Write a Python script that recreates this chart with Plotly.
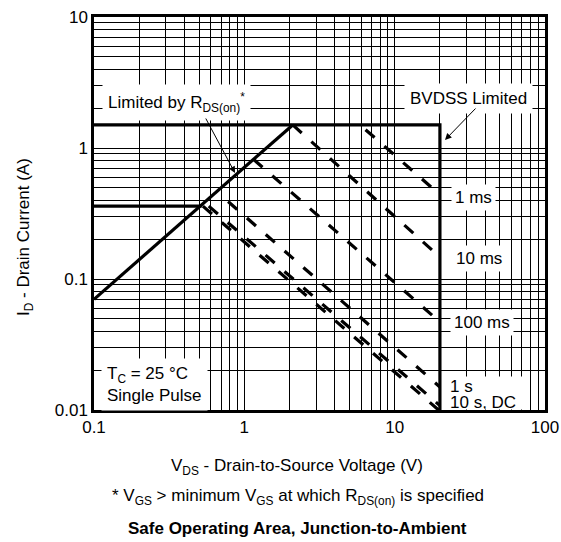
import plotly.graph_objects as go

# ---------------- data ----------------
x_ticks = [0.1, 0.2, 0.3, 0.4, 0.5, 0.6, 0.7, 0.8, 0.9,
           1, 2, 3, 4, 5, 6, 7, 8, 9,
           10, 20, 30, 40, 50, 60, 70, 80, 90, 100]
x_ticklabels = ["0.1"] + [""] * 8 + ["1"] + [""] * 8 + ["10"] + [""] * 8 + ["100"]
y_ticks = [0.01, 0.02, 0.03, 0.04, 0.05, 0.06, 0.07, 0.08, 0.09,
           0.1, 0.2, 0.3, 0.4, 0.5, 0.6, 0.7, 0.8, 0.9,
           1, 2, 3, 4, 5, 6, 7, 8, 9, 10]
y_ticklabels = ["0.01"] + [""] * 8 + ["0.1"] + [""] * 8 + ["1"] + [""] * 8 + ["10"]

# R_DS(on) limit line
rds_v = [0.1, 2.1]
rds_i = [0.07, 1.5]
# current limit + BVDSS limit
limit_v = [0.1, 20, 20]
limit_i = [1.5, 1.5, 0.01]
# lower current limit (long pulses / DC)
low_v = [0.1, 0.52]
low_i = [0.36, 0.36]

# pulse-width boundaries (dashed)
pulse_names = ["1 ms", "10 ms", "100 ms", "1 s", "10 s", "DC"]
pulse_v = [[6.4, 20], [2.1, 20], [1.15, 20], [0.78, 20], [0.53, 20], [0.58, 20]]
pulse_i = [[1.38, 0.44], [1.5, 0.147], [0.82, 0.047], [0.39, 0.015], [0.36, 0.0098], [0.36, 0.0108]]

FONT = "Liberation Sans, Arial, Helvetica, sans-serif"
FS = 17

fig = go.Figure()

for v, i in [(rds_v, rds_i), (limit_v, limit_i), (low_v, low_i)]:
    fig.add_trace(go.Scatter(x=v, y=i, mode="lines",
                             line=dict(color="black", width=3.2),
                             showlegend=False, hoverinfo="skip"))

for name, v, i in zip(pulse_names, pulse_v, pulse_i):
    fig.add_trace(go.Scatter(x=v, y=i, mode="lines", name=name,
                             line=dict(color="black", width=3.2, dash="12px,13px"),
                             showlegend=False, hoverinfo="skip"))

L, R, T, B = 94, 16, 17, 132
W, H = 561, 542
PW, PH = W - L - R, H - T - B


def px(x):
    return (x - L) / PW


def py(y):
    return (H - B - y) / PH


ann = []
txt = dict(font=dict(family=FONT, size=FS, color="black"), xref="paper", yref="paper",
           showarrow=False, yanchor="middle")

ann.append(dict(text="Limited by R<sub>DS(on)</sub><sup>*</sup>", x=px(176), y=py(103),
                xanchor="center", borderpad=5, bgcolor="white", **txt))
ann.append(dict(text="BVDSS Limited", x=px(468), y=py(98), xanchor="center", borderpad=5,
                bgcolor="white", **txt))
ann.append(dict(text="1 ms", x=px(473), y=py(197), xanchor="center", borderpad=3, bgcolor="white", **txt))
ann.append(dict(text="10 ms", x=px(479), y=py(258), xanchor="center", borderpad=3, bgcolor="white", **txt))
ann.append(dict(text="100 ms", x=px(482), y=py(322), xanchor="center", borderpad=3, bgcolor="white", **txt))
ann.append(dict(text="10 s, DC", x=px(449), y=py(401.5), xanchor="left", align="left", borderpad=0,
                width=78, height=14, bgcolor="white", **txt))
ann.append(dict(text="1 s", x=px(449), y=py(386), xanchor="left", align="left", borderpad=0,
                width=78, height=18, bgcolor="white", **txt))
ann.append(dict(text="T<sub>C</sub> = 25 °C<br>Single Pulse", x=px(101), y=py(384),
                xanchor="left", align="left", borderpad=5, bgcolor="white", **txt))

# arrows
arrow = dict(xref="paper", yref="paper", text="", showarrow=True, arrowhead=2,
             arrowsize=1.3, arrowwidth=1, arrowcolor="black")
ann.append(dict(x=px(235), y=py(173), ax=-30, ay=-56, **arrow))
ann.append(dict(x=px(445), y=py(140), ax=32, ay=-33, **arrow))

# axis titles and captions
cap = dict(font=dict(family=FONT, size=FS, color="black"), xref="paper", yref="paper",
           showarrow=False, xanchor="center", yanchor="middle")
ann.append(dict(text="V<sub>DS</sub> - Drain-to-Source Voltage (V)", x=px(297), y=py(467), **cap))
ann.append(dict(text="* V<sub>GS</sub> > minimum V<sub>GS</sub> at which R<sub>DS(on)</sub> is specified",
                x=px(298), y=py(497), **cap))
ann.append(dict(text="<b>Safe Operating Area, Junction-to-Ambient</b>", x=px(297), y=py(528), **cap))
ann.append(dict(text="I<sub>D</sub> - Drain Current (A)", x=px(25), y=py(237), textangle=-90, **cap))

axis_common = dict(type="log", showline=True, mirror=True, linewidth=2.5, linecolor="black",
                   showgrid=True, gridcolor="black", gridwidth=1, zeroline=False,
                   automargin=False,
                   ticks="", tickfont=dict(family=FONT, size=FS, color="black"))

fig.update_layout(
    width=W, height=H,
    margin=dict(l=L, r=R, t=T, b=B, autoexpand=False),
    paper_bgcolor="white", plot_bgcolor="white",
    xaxis=dict(range=[-1, 2], tickvals=x_ticks, ticktext=x_ticklabels, **axis_common),
    yaxis=dict(range=[-2, 1], tickvals=y_ticks, ticktext=y_ticklabels, **axis_common),
    annotations=ann,
    font=dict(family=FONT, size=FS, color="black"),
)

fig.write_html("out.html", config={"displayModeBar": False},
               post_script="document.body.style.margin='0';document.body.style.overflow='hidden';")
